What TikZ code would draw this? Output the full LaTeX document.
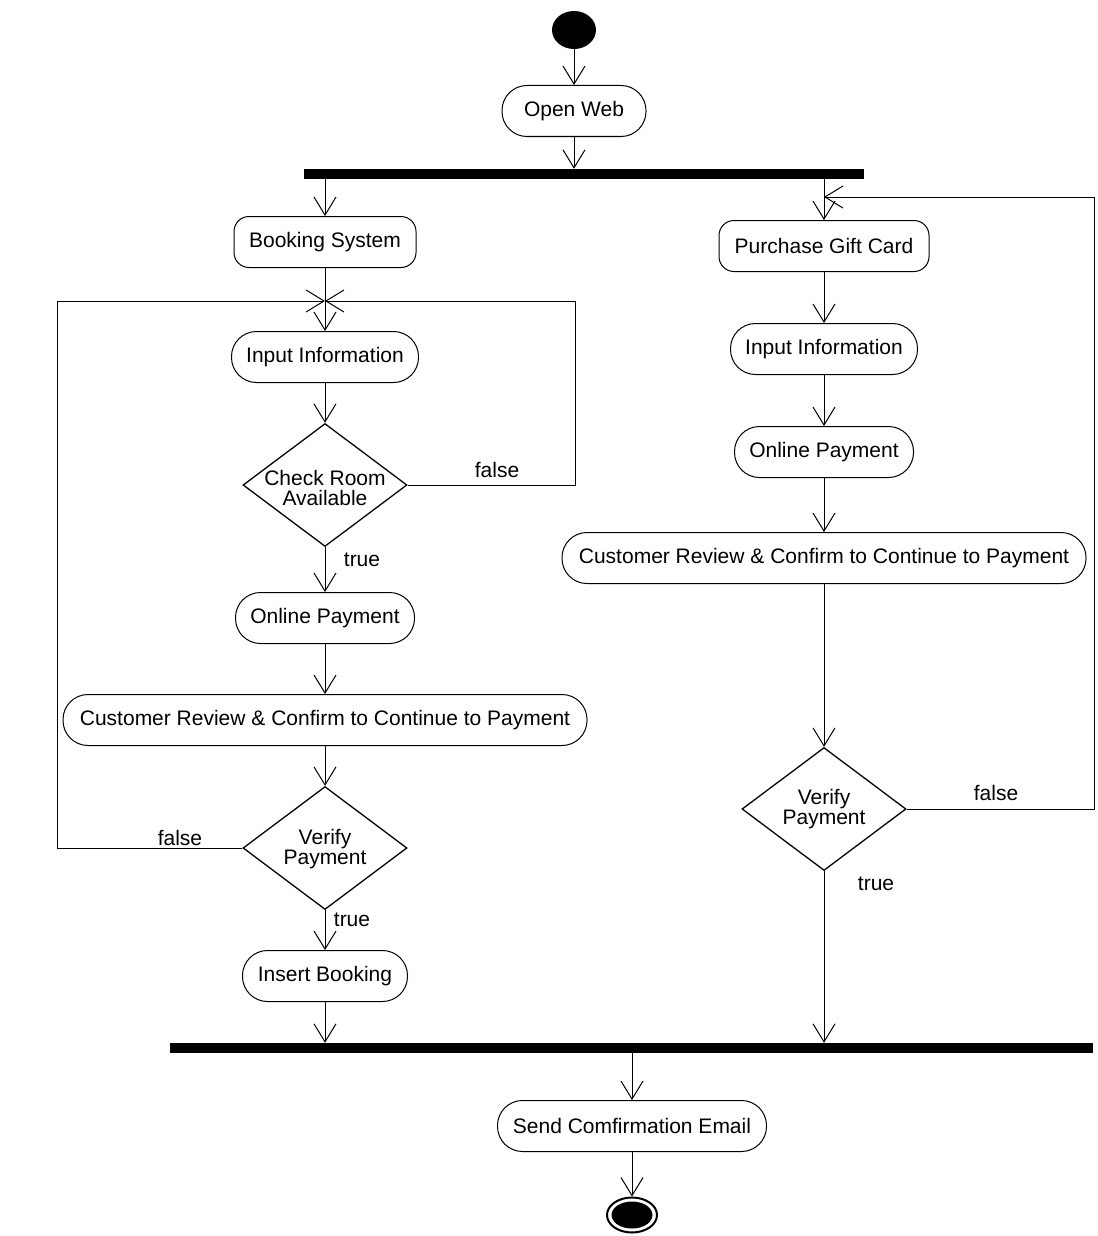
\documentclass[tikz,border=0pt]{standalone}
\usepackage{fontspec}
\setmainfont{Liberation Sans}
\usetikzlibrary{arrows.meta,shapes.geometric}
\newcommand\dfont{\fontsize{21pt}{20pt}\selectfont}
\begin{document}
\begin{tikzpicture}[x=1pt,y=-1pt,
  every node/.style={font=\dfont},
  act/.style={draw, line width=1pt, rounded corners=25pt, minimum height=51pt, inner sep=0pt},
  sact/.style={act, rounded corners=15pt},
  dec/.style={draw, diamond, line width=1.3pt, minimum width=164pt, minimum height=123pt, inner sep=0pt},
  dtext/.style={align=center, inner sep=0pt},
  bar/.style={fill=black, minimum height=10pt, inner sep=0pt},
  startn/.style={ellipse, fill=black, minimum width=44pt, minimum height=38pt, inner sep=0pt},
  endo/.style={ellipse, draw, line width=2pt, minimum width=50pt, minimum height=35pt, inner sep=0pt},
  endi/.style={ellipse, fill=black, minimum width=41pt, minimum height=27pt, inner sep=0pt},
  arr/.style={line width=1pt, -{Straight Barb[length=18pt,width=22pt,line width=1pt]}},
  lbl/.style={inner sep=0pt},
]
\useasboundingbox (0,0) rectangle (1097,1236);
% nodes
\node[startn] (s) at (574,30) {};
\node[act, minimum width=144pt] (ow) at (574,111) {Open Web};
\node[bar, minimum width=560pt] (b1) at (584,174) {};
\node[sact, minimum width=182pt] (bs) at (325,242) {Booking System};
\node[sact, minimum width=210pt] (pg) at (824,246) {Purchase Gift Card};
\coordinate (jL) at (325,301);
\coordinate (jR) at (824,197);
\coordinate (cR) at (575,301);
\coordinate (cL) at (57,301);
\coordinate (cRR) at (1094,197);
\node[act, minimum width=187pt] (ii1) at (325,357) {Input Information};
\node[dec] (cr) at (325,485) {};
\node[dtext] (crt) at (325,488) {Check Room\\Available};
\node[act, minimum width=179pt] (op1) at (325,618) {Online Payment};
\node[act, minimum width=524pt] (cv1) at (325,720) {Customer Review \& Confirm to Continue to Payment};
\node[dec] (vp1) at (325,848) {};
\node[dtext] (vp1t) at (325,849) {Verify\\Payment};
\node[act, minimum width=165pt] (ib) at (325,976) {Insert Booking};
\node[act, minimum width=187pt] (ii2) at (824,349) {Input Information};
\node[act, minimum width=179pt] (op2) at (824,452) {Online Payment};
\node[act, minimum width=524pt] (cv2) at (824,558) {Customer Review \& Confirm to Continue to Payment};
\node[dec] (vp2) at (824,809) {};
\node[dtext] (vp2t) at (824,809) {Verify\\Payment};
\node[bar, minimum width=923pt] (b2) at (631.5,1048) {};
\node[act, minimum width=269pt] (se) at (632,1126) {Send Comfirmation Email};
\node[endo] (e) at (632,1215) {};
\node[endi] (ei) at (632,1215) {};
% labels
\node[lbl] (f1) at (497,470) {false};
\node[lbl] (t1) at (362,560) {true};
\node[lbl] (f2) at (180,838) {false};
\node[lbl] (t2) at (352,920) {true};
\node[lbl] (f3) at (996,793) {false};
\node[lbl] (t3) at (876,884) {true};
% connectors
\draw[arr] (s) -- (ow);
\draw[arr] (ow.south) -- (ow.south |- b1.north);
\draw[arr] (b1.south -| bs) -- (bs.north);
\draw[arr] (b1.south -| pg) -- (pg.north);
\draw[arr] (bs.south) -- (ii1.north);
\draw[arr] (ii1.south) -- (cr.north);
\draw[arr] (cr.east) -| (cR) -- (jL);
\draw[arr] (cr.south) -- (op1.north);
\draw[arr] (op1.south) -- (cv1.north);
\draw[arr] (cv1.south) -- (vp1.north);
\draw[arr] (vp1.west) -| (cL) -- (jL);
\draw[arr] (vp1.south) -- (ib.north);
\draw[arr] (ib.south) -- (ib.south |- b2.north);
\draw[arr] (pg.south) -- (ii2.north);
\draw[arr] (ii2.south) -- (op2.north);
\draw[arr] (op2.south) -- (cv2.north);
\draw[arr] (cv2.south) -- (vp2.north);
\draw[arr] (vp2.east) -| (cRR) -- (jR);
\draw[arr] (vp2.south) -- (vp2.south |- b2.north);
\draw[arr] (b2.south -| se) -- (se.north);
\draw[arr] (se.south) -- (e.north);
\end{tikzpicture}
\end{document}
